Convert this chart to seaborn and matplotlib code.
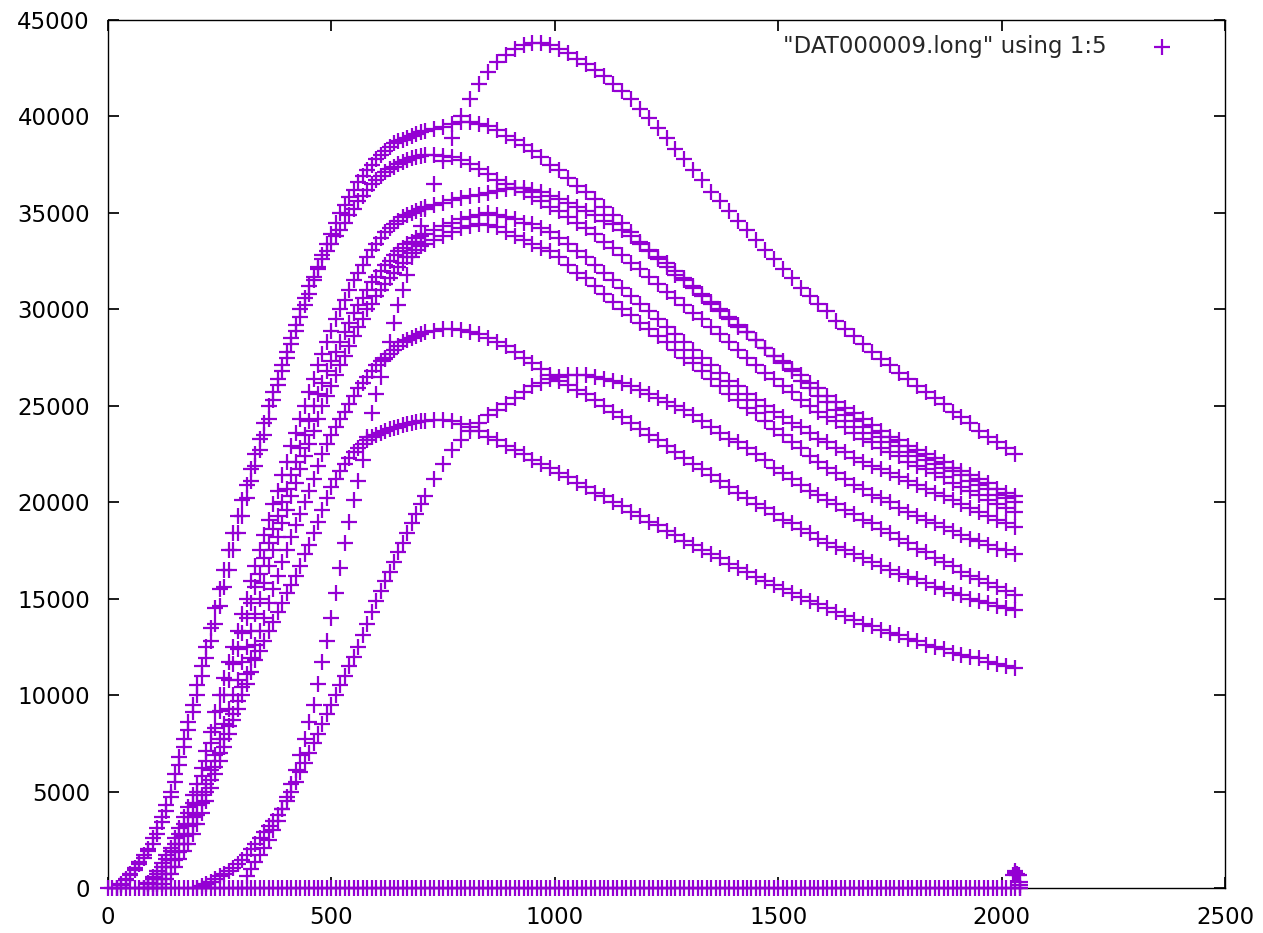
import pandas as pd
import seaborn as sns
import matplotlib.pyplot as plt

# column 1 vs column 5 of DAT000009.long
# rising parts sampled every 10 (from *_start up to 700), falling parts every 20 (710 .. 2030)
rise_step = 10
fall_start = 710
fall_step = 20

a_start = 300
a_rise = [0, 600, 1000, 1350, 1700, 2100, 2500, 3000, 3500, 4100, 4700, 5400, 6100, 6900, 7700,
          8600, 9500, 10600, 11700, 12800, 14000, 15300, 16600, 17900, 19000, 20100, 21100, 22200,
          23400, 24600, 25600, 26500, 27400, 28300, 29300, 30200, 31000, 31800, 32700, 33500, 34300]
a_fall = [35200, 36500, 37700, 38900, 40000, 40900, 41700, 42300, 42800, 43200, 43500, 43700, 43800,
          43800, 43700, 43500, 43300, 43000, 42700, 42400, 42100, 41700, 41300, 40900, 40400, 39900,
          39400, 38900, 38300, 37800, 37200, 36700, 36100, 35600, 35100, 34600, 34100, 33600, 33100,
          32600, 32100, 31600, 31100, 30700, 30300, 29900, 29400, 29000, 28600, 28200, 27800, 27400,
          27100, 26700, 26400, 26000, 25700, 25400, 25100, 24700, 24400, 24100, 23700, 23400, 23100,
          22800, 22500]

b_start = 20
b_rise = [0, 200, 450, 750, 1050, 1350, 1700, 2000, 2600, 3100, 3700, 4300, 5000, 5900, 6800, 7700,
          8600, 9500, 10500, 11500, 12500, 13500, 14500, 15500, 16500, 17500, 18400, 19300, 20100,
          20900, 21700, 22500, 23300, 24100, 25000, 25700, 26400, 27100, 27800, 28500, 29200, 30000,
          30600, 31200, 31700, 32200, 32800, 33400, 33900, 34500, 35000, 35400, 35800, 36200, 36600,
          36900, 37200, 37500, 37800, 38000, 38200, 38400, 38600, 38700, 38800, 38900, 39000, 39100,
          39200]
b_fall = [39250, 39350, 39450, 39600, 39700, 39700, 39600, 39500, 39300, 39000, 38800, 38500, 38200,
          37900, 37500, 37200, 36800, 36400, 36100, 35700, 35300, 34900, 34500, 34000, 33500, 33000,
          32600, 32200, 31800, 31500, 31100, 30700, 30300, 29900, 29500, 29100, 28800, 28400, 28000,
          27600, 27300, 26900, 26600, 26200, 25900, 25500, 25200, 24900, 24600, 24300, 24000, 23700,
          23400, 23200, 22900, 22700, 22500, 22300, 22100, 21800, 21600, 21400, 21200, 21000, 20700,
          20500, 20300]

c_start = 20
c_rise = [0, 150, 400, 650, 950, 1250, 1550, 1900, 2300, 2800, 3400, 4000, 4700, 5500, 6400, 7300,
          8200, 9100, 10000, 11000, 11900, 12800, 13700, 14600, 15600, 16500, 17500, 18400, 19300,
          20200, 21100, 21900, 22700, 23500, 24300, 25300, 26100, 26800, 27500, 28200, 28900, 29600,
          30200, 30800, 31500, 32100, 32600, 33000, 33400, 33800, 34100, 34500, 34900, 35200, 35600,
          35900, 36200, 36500, 36700, 36900, 37100, 37300, 37400, 37550, 37650, 37750, 37850, 37900,
          37950]
c_fall = [38000, 38000, 37950, 37900, 37750, 37550, 37300, 37000, 36700, 36500, 36300, 36100, 35800,
          35600, 35300, 35100, 34800, 34500, 34200, 33900, 33500, 33200, 32800, 32400, 32100, 31700,
          31300, 30900, 30600, 30200, 29800, 29500, 29100, 28700, 28300, 27900, 27500, 27100, 26700,
          26400, 26000, 25700, 25300, 25000, 24700, 24400, 24200, 23900, 23600, 23300, 23100, 22800,
          22600, 22400, 22100, 21900, 21700, 21500, 21300, 21000, 20800, 20600, 20400, 20100, 19900,
          19700, 19500]

d_start = 80
d_rise = [0, 250, 550, 900, 1300, 1700, 2100, 2600, 3100, 3700, 4200, 4800, 5400, 6200, 7100, 8100,
          9100, 10000, 10900, 11700, 12500, 13300, 14200, 15000, 15900, 16700, 17500, 18300, 19100,
          19900, 20600, 21400, 22100, 22900, 23600, 24300, 25000, 25700, 26400, 27100, 27700, 28300,
          28900, 29500, 30000, 30500, 31000, 31500, 31900, 32300, 32700, 33100, 33400, 33700, 34000,
          34200, 34400, 34600, 34800, 34900, 35000, 35100, 35200]
d_fall = [35300, 35400, 35500, 35650, 35750, 35850, 35950, 36050, 36150, 36250, 36300, 36300, 36200,
          36100, 35900, 35700, 35500, 35300, 35100, 34900, 34600, 34400, 34100, 33800, 33400, 33100,
          32700, 32400, 32000, 31600, 31200, 30800, 30400, 30000, 29600, 29200, 28800, 28400, 28000,
          27600, 27200, 26800, 26300, 25900, 25500, 25200, 24800, 24500, 24200, 23900, 23600, 23400,
          23100, 22900, 22600, 22400, 22200, 22000, 21800, 21600, 21400, 21100, 20900, 20700, 20400,
          20200, 20000]

e_start = 80
e_rise = [0, 200, 450, 750, 1100, 1500, 1900, 2300, 2800, 3300, 3900, 4400, 5000, 5800, 6600, 7500,
          8300, 9200, 10000, 10800, 11600, 12400, 13200, 14000, 14800, 15600, 16300, 17100, 17900,
          18600, 19300, 20000, 20700, 21400, 22100, 22800, 23500, 24200, 25000, 25600, 26200, 26800,
          27300, 27800, 28300, 28800, 29300, 29800, 30200, 30600, 31000, 31400, 31700, 32000, 32300,
          32500, 32800, 33000, 33200, 33400, 33500, 33700, 33800]
e_fall = [33900, 34100, 34300, 34500, 34700, 34800, 34900, 35000, 34900, 34800, 34700, 34500, 34400,
          34200, 34000, 33700, 33400, 33000, 32700, 32300, 31900, 31500, 31100, 30700, 30300, 29900,
          29500, 29100, 28700, 28300, 27900, 27500, 27100, 26700, 26300, 26000, 25600, 25300, 25000,
          24700, 24400, 24100, 23900, 23600, 23300, 23100, 22800, 22600, 22300, 22100, 21900, 21700,
          21500, 21300, 21100, 20900, 20700, 20500, 20300, 20100, 19900, 19700, 19500, 19300, 19100,
          18900, 18700]

f_start = 90
f_rise = [0, 200, 450, 750, 1100, 1450, 1850, 2300, 2700, 3200, 3700, 4300, 4800, 5400, 6100, 6900,
          7700, 8500, 9300, 10000, 10800, 11700, 12500, 13300, 14200, 15000, 15800, 16700, 17500,
          18200, 18900, 19600, 20300, 21000, 21700, 22400, 23000, 23700, 24300, 25000, 25500, 26000,
          26600, 27100, 27600, 28100, 28600, 29100, 29500, 30000, 30300, 30700, 31000, 31300, 31600,
          31900, 32200, 32400, 32700, 32900, 33100, 33300]
f_fall = [33400, 33600, 33800, 34000, 34200, 34300, 34400, 34350, 34250, 34000, 33800, 33600, 33400,
          33200, 33000, 32700, 32300, 31900, 31600, 31200, 30800, 30400, 30000, 29700, 29300, 29000,
          28600, 28300, 27900, 27500, 27200, 26800, 26400, 26000, 25600, 25300, 24900, 24600, 24200,
          23800, 23500, 23100, 22800, 22400, 22100, 21800, 21500, 21200, 20900, 20700, 20400, 20200,
          20000, 19700, 19500, 19300, 19100, 18900, 18700, 18500, 18300, 18100, 18000, 17800, 17600,
          17500, 17300]

g_start = 100
g_rise = [0, 200, 450, 750, 1100, 1450, 1850, 2300, 2800, 3300, 3800, 4400, 5000, 5600, 6300, 7000,
          7700, 8400, 9000, 9700, 10400, 11100, 11900, 12600, 13300, 14000, 14800, 15500, 16200,
          16900, 17500, 18200, 18800, 19400, 20000, 20600, 21200, 21900, 22500, 23000, 23500, 23900,
          24300, 24700, 25100, 25500, 25900, 26200, 26500, 26800, 27100, 27300, 27500, 27700, 27900,
          28100, 28300, 28400, 28500, 28600, 28700]
g_fall = [28800, 28900, 29000, 29000, 28950, 28850, 28700, 28500, 28300, 28100, 27800, 27500, 27200,
          26900, 26600, 26300, 26100, 25800, 25600, 25300, 25000, 24700, 24400, 24100, 23800, 23500,
          23200, 22900, 22600, 22300, 22000, 21700, 21400, 21100, 20800, 20500, 20200, 19900, 19700,
          19400, 19100, 18900, 18600, 18400, 18100, 17900, 17700, 17500, 17300, 17100, 16900, 16700,
          16500, 16300, 16100, 16000, 15800, 15600, 15500, 15300, 15200, 15000, 14900, 14800, 14600,
          14500, 14400]

h_start = 200
h_rise = [0, 100, 200, 300, 450, 600, 750, 900, 1050, 1250, 1450, 1700, 2000, 2300, 2600, 2900,
          3200, 3500, 3800, 4100, 4500, 5000, 5500, 6000, 6500, 7000, 7500, 8000, 8500, 9000, 9500,
          10000, 10500, 11000, 11500, 12000, 12500, 13100, 13700, 14300, 14900, 15400, 15900, 16400,
          16900, 17400, 17900, 18400, 18900, 19400, 19900]
h_fall = [20300, 21200, 22000, 22700, 23200, 23700, 24100, 24500, 24800, 25100, 25400, 25700, 26000,
          26200, 26400, 26500, 26600, 26600, 26600, 26500, 26400, 26300, 26200, 26000, 25800, 25600,
          25400, 25200, 25000, 24800, 24500, 24200, 23900, 23600, 23300, 23100, 22800, 22500, 22200,
          21800, 21500, 21200, 20900, 20600, 20400, 20100, 19900, 19600, 19400, 19100, 18900, 18600,
          18400, 18100, 17900, 17600, 17400, 17100, 16900, 16700, 16400, 16200, 16000, 15800, 15600,
          15400, 15200]

i_start = 110
i_rise = [0, 200, 450, 750, 1100, 1500, 1900, 2300, 2800, 3300, 3900, 4500, 5200, 5900, 6600, 7300,
          8000, 8700, 9300, 10000, 10600, 11200, 11800, 12300, 12800, 13300, 13800, 14300, 14800,
          15300, 15700, 16200, 16700, 17300, 17800, 18400, 19000, 19600, 20200, 20800, 21200, 21600,
          22000, 22300, 22600, 22800, 23000, 23200, 23400, 23500, 23600, 23700, 23800, 23850, 23900,
          24000, 24050, 24100, 24150, 24200]
i_fall = [24200, 24250, 24250, 24200, 24050, 23900, 23700, 23400, 23200, 22900, 22700, 22500, 22200,
          22000, 21800, 21500, 21300, 21000, 20800, 20500, 20300, 20000, 19800, 19500, 19300, 19000,
          18800, 18500, 18300, 18000, 17800, 17500, 17300, 17100, 16800, 16600, 16400, 16100, 15900,
          15700, 15500, 15300, 15100, 14900, 14700, 14500, 14300, 14100, 13900, 13700, 13600, 13400,
          13200, 13100, 12900, 12800, 12600, 12500, 12400, 12200, 12100, 12000, 11900, 11700, 11600,
          11500, 11400]

# row of zeros along the bottom, and the little cluster at the end of the file
zero_x = list(range(0, 2041, 10))
tail_x = [2026, 2030, 2034, 2038, 2030, 2034, 2040, 2040, 2040]
tail_y = [700, 800, 750, 700, 900, 650, 0, 150, 300]

curves = [(a_start, a_rise, a_fall), (b_start, b_rise, b_fall), (c_start, c_rise, c_fall),
          (d_start, d_rise, d_fall), (e_start, e_rise, e_fall), (f_start, f_rise, f_fall),
          (g_start, g_rise, g_fall), (h_start, h_rise, h_fall), (i_start, i_rise, i_fall)]

xs, ys = [], []
for start, rise, fall in curves:
    xs += [start + rise_step * k for k in range(len(rise))]
    ys += rise
    xs += [fall_start + fall_step * k for k in range(len(fall))]
    ys += fall
xs += zero_x
ys += [0] * len(zero_x)
xs += tail_x
ys += tail_y

df = pd.DataFrame({'col1': xs, 'col5': ys})

sns.set_theme(style='ticks', rc={
    'xtick.direction': 'in', 'ytick.direction': 'in',
    'xtick.top': True, 'ytick.right': True,
    'xtick.major.size': 8, 'ytick.major.size': 8,
    'axes.linewidth': 1.0,
})
plt.rcParams['font.family'] = ['DejaVu Sans']

fig = plt.figure(figsize=(12.63, 9.33), dpi=100)
ax = fig.add_axes([0.0855, 0.0482, 0.8845, 0.9304])

sns.scatterplot(data=df, x='col1', y='col5', marker='+', s=120, color='#9400D3',
                linewidth=1.6, label='"DAT000009.long" using 1:5', ax=ax, clip_on=False, zorder=3)

ax.set_xlim(0, 2500)
ax.set_ylim(0, 45000)
ax.set_xticks(range(0, 2501, 500))
ax.set_yticks(range(0, 45001, 5000))
ax.tick_params(labelsize=16.5, colors='black', pad=13)
ax.set_xlabel('')
ax.set_ylabel('')
for sp in ax.spines.values():
    sp.set_color('black')

ax.legend(loc='upper right', bbox_to_anchor=(0.972, 1.006), frameon=False, markerfirst=False,
          fontsize=16.5, handlelength=1.0, handletextpad=1.9)

fig.savefig('out.png', dpi=100)
